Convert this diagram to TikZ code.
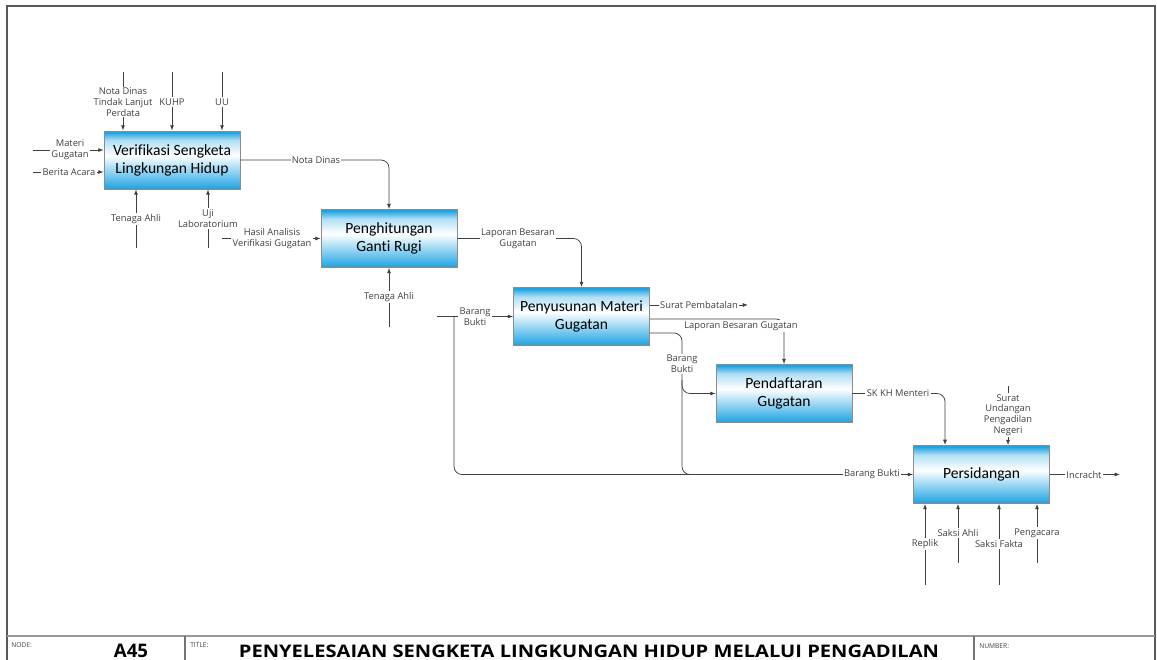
\documentclass[tikz,border=0pt]{standalone}
\usepackage{fontspec}
\setmainfont{Carlito}[Ligatures=NoCommon]
\newfontfamily\labelfont{Open Sans}
\usetikzlibrary{arrows.meta}
\definecolor{idefblue}{RGB}{28,163,226}
% activity boxes: thin bright band at the top, white in the upper part, blue towards the bottom
\pgfdeclareverticalshading{idefbox}{100bp}{color(0bp)=(idefblue); color(25bp)=(idefblue); color(54bp)=(white); color(67bp)=(white!65!idefblue); color(74bp)=(idefblue); color(100bp)=(idefblue)}
\tikzset{
  actbox/.style={draw=black!45, line width=0.6pt, shading=idefbox,
    minimum width=102pt, minimum height=43.5pt, inner sep=0pt, align=center,
    font=\fontsize{11.7}{13.5}\selectfont},
  flow/.style={draw=black!75, line width=0.55pt, rounded corners=6pt},
  arr/.style={flow, -{Latex[length=4pt,width=3pt]}},
  lbl/.style={font=\labelfont\fontsize{7}{8}\selectfont, text=black!75,
    fill=white, inner sep=1pt, align=center},
  frameline/.style={draw=black!65, line width=0.8pt},
  tag/.style={font=\labelfont\fontsize{5}{6}\selectfont, text=black!75, anchor=west, inner sep=0pt},
}
\begin{document}
\begin{tikzpicture}[x=0.75pt, y=-0.75pt]
\useasboundingbox (0,0) rectangle (1157,660);

% ---------- activities ----------
\node[actbox] (b1) at (172,160)   {Verifikasi Sengketa\\Lingkungan Hidup};
\node[actbox] (b2) at (389,238.5) {Penghitungan\\Ganti Rugi};
\node[actbox] (b3) at (581.5,316.5) {Penyusunan Materi\\Gugatan};
\node[actbox] (b4) at (784,393.5) {Pendaftaran\\Gugatan};
\node[actbox] (b5) at (981.5,474.5) {Persidangan};

% ---------- free ends and junctions ----------
\coordinate (t1) at (123,72);
\coordinate (t2) at (172,72);
\coordinate (t3) at (222,72);
\coordinate (i1) at (33,150);
\coordinate (i2) at (33,172);
\coordinate (m1) at (136,248);
\coordinate (m2) at (208,248);
\coordinate (h1) at (222,238.5);
\coordinate (m3) at (389,327);
\coordinate (bb) at (437,316.5);
\coordinate (bj) at (454,316.5);
\coordinate (sp) at (748,305);
\coordinate (lb) at (650,319);
\coordinate (bo) at (650,333);
\coordinate (bv) at (682,474.5);
\coordinate (bs) at (682,380);
\coordinate (sk) at (945,445);
\coordinate (su) at (1008,386);
\coordinate (ic) at (1120,474.5);
\coordinate (r1) at (925,585);
\coordinate (r2) at (958,563);
\coordinate (r3) at (999,585);
\coordinate (r4) at (1037,563);

% ---------- connectors ----------
\draw[arr] (t1) -- (t1 |- b1.north);
\draw[arr] (t2) -- (t2 |- b1.north);
\draw[arr] (t3) -- (t3 |- b1.north);
\draw[arr] (i1) -- (i1 -| b1.west);
\draw[arr] (i2) -- (i2 -| b1.west);
\draw[arr] (m1) -- (m1 |- b1.south);
\draw[arr] (m2) -- (m2 |- b1.south);
\draw[arr] (b1.east) -| (b2.north);

\draw[arr] (h1) -- (b2.west);
\draw[arr] (m3) -- (b2.south);
\draw[arr] (b2.east) -| (b3.north);

\draw[arr] (bb) -- (b3.west);
\draw[arr] (bj) |- (b5.west);
\draw[arr] (sp -| b3.east) -- (sp);
\draw[arr] (lb) -| (b4.north);
\draw[flow] (bo) -| (bv) -- ++(20,0);
\draw[arr] (bs) |- (b4.west);

\draw[arr] (b4.east) -| (sk);
\draw[arr] (su) -- (su |- b5.north);
\draw[arr] (b5.east) -- (ic);
\draw[arr] (r1) -- (r1 |- b5.south);
\draw[arr] (r2) -- (r2 |- b5.south);
\draw[arr] (r3) -- (r3 |- b5.south);
\draw[arr] (r4) -- (r4 |- b5.south);

% ---------- connector labels ----------
\node[lbl] (l1)  at (123,102) {Nota Dinas\\Tindak Lanjut\\Perdata};
\node[lbl] (l2)  at (172,102) {KUHP};
\node[lbl] (l3)  at (222,102) {UU};
\node[lbl] (l4)  at (70,150)  {Materi\\Gugatan};
\node[lbl] (l5)  at (69,172)  {Berita Acara};
\node[lbl] (l6)  at (136,219) {Tenaga Ahli};
\node[lbl] (l7)  at (208,218.5) {Uji\\Laboratorium};
\node[lbl] (l8)  at (316,160) {Nota Dinas};
\node[lbl] (l9)  at (272,238.5) {Hasil Analisis\\Verifikasi Gugatan};
\node[lbl] (l10) at (389,297) {Tenaga Ahli};
\node[lbl] (l11) at (518,239) {Laporan Besaran\\Gugatan};
\node[lbl] (l12) at (475,316.5) {Barang\\Bukti};
\node[lbl] (l13) at (699,305) {Surat Pembatalan};
\node[lbl] (l14) at (741,326) {Laporan Besaran Gugatan};
\node[lbl] (l15) at (682,364) {Barang\\Bukti};
\node[lbl] (l16) at (898,393.5) {SK KH Menteri};
\node[lbl] (l17) at (1008,415) {Surat\\Undangan\\Pengadilan\\Negeri};
\node[lbl] (l18) at (872,474.5) {Barang Bukti};
\node[lbl] (l19) at (1084,474.5) {Incracht};
\node[lbl] (l20) at (925,544) {Replik};
\node[lbl] (l21) at (958,533) {Saksi Ahli};
\node[lbl] (l22) at (999,544) {Saksi Fakta};
\node[lbl] (l23) at (1037,533) {Pengacara};

% ---------- sheet frame and title block ----------
\draw[frameline] (7,660) -- (7,6) -- (1155,6) -- (1155,660);
\draw[draw=black!40, line width=1.3pt] (7,636) -- (1155,636);
\draw[draw=black!55, line width=0.8pt] (185,636) -- (185,660);
\draw[draw=black!55, line width=0.8pt] (974,636) -- (974,660);
\node[tag] (nodetag) at (11,645) {NODE:};
\node[tag] (titletag) at (190,645) {TITLE:};
\node[tag] (numtag) at (979,646) {NUMBER:};
\node[font=\labelfont\bfseries\fontsize{14}{16}\selectfont, inner sep=0pt] (nodeid) at (131,651) {A45};
\node[font=\labelfont\bfseries\fontsize{13}{15}\selectfont, inner sep=0pt] (title) at (589,651)
  {\scalebox{1.16}[1]{PENYELESAIAN SENGKETA LINGKUNGAN HIDUP MELALUI PENGADILAN}};
\end{tikzpicture}
\end{document}
